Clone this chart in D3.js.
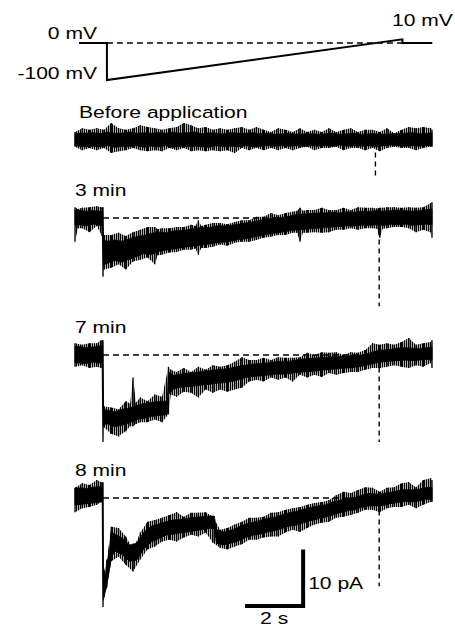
<!DOCTYPE html>
<html>
<head>
<meta charset="utf-8">
<script src="https://cdn.jsdelivr.net/npm/d3@7"></script>
<style>
  body { margin: 0; background: #fff; }
  svg { display: block; }
  text { font-family: "Liberation Sans", Arial, sans-serif; fill: #000; }
</style>
</head>
<body>
<div id="chart"></div>
<script>
// Voltage protocol (s, mV)
const protocolTimes = [0.14, 1.1, 1.1, 11.28, 11.28, 12.31];
const protocolVolts = [0, 0, -100, 10, 0, 0];
const voltLabels = ["0 mV", "-100 mV", "10 mV"];

// Current traces.
// *Core: dense part of the noisy band [time (s), low (pA), high (pA)]
// *Peaks: noise extremes [time (s), min (pA), max (pA)]
const beforeCore = [
  [0,-1.0,1.1],[0.125,-1.1,1.2],[0.375,-1.2,1.2],[0.625,-1.1,1.3],[0.875,-1.2,1.1],[1.125,-1.0,1.4],
  [1.375,-1.3,1.2],[1.625,-1.1,1.2],[1.875,-1.2,1.4],[2.125,-1.0,1.2],[2.375,-1.3,1.3],[2.625,-1.1,1.2],
  [2.875,-1.2,1.3],[3.125,-1.0,1.2],[3.375,-1.3,1.4],[3.625,-1.1,1.2],[3.875,-1.2,1.3],[4.125,-1.1,1.4],
  [4.375,-1.2,1.1],[4.625,-1.3,1.3],[4.875,-1.0,1.2],[5.125,-1.2,1.1],[5.375,-1.1,1.3],[5.625,-1.2,1.2],
  [5.875,-1.0,1.2],[6.125,-1.2,1.3],[6.375,-1.1,1.1],[6.625,-1.0,1.2],[6.875,-1.1,1.0],[7.125,-1.0,1.1],
  [7.375,-1.1,1.2],[7.625,-1.0,1.0],[7.875,-1.1,1.1],[8.125,-1.0,1.1],[8.375,-1.1,1.0],[8.625,-1.0,1.1],
  [8.875,-1.1,1.2],[9.125,-0.9,1.0],[9.375,-1.1,1.1],[9.625,-1.0,1.2],[9.875,-1.1,1.0],[10.125,-1.0,1.1],
  [10.375,-1.2,1.1],[10.625,-1.0,1.0],[10.875,-0.9,1.1],[11.125,-1.0,1.1],[11.375,-1.1,1.2],[11.625,-1.0,1.3],
  [11.875,-1.1,1.1],[12.125,-1.0,1.2],[12.3,-1.0,1.2]
];
const beforePeaks = [
  [0,-1.2,1.4],[0.25,-1.8,2.1],[0.5,-1.4,1.8],[0.75,-1.8,2.1],[1,-1.4,1.8],[1.25,-2.3,3.0],
  [1.5,-2.0,2.1],[1.75,-1.8,1.8],[2,-1.4,2.1],[2.25,-1.8,2.6],[2.5,-2.0,2.3],[2.75,-1.8,2.1],
  [3,-2.0,1.8],[3.25,-1.4,2.1],[3.5,-1.8,2.3],[3.75,-1.4,3.0],[4,-2.0,2.6],[4.25,-1.8,2.1],
  [4.5,-2.0,2.3],[4.75,-1.8,1.8],[5,-2.0,2.1],[5.25,-1.8,1.8],[5.5,-2.3,2.1],[5.75,-1.4,2.3],
  [6,-1.8,1.8],[6.25,-1.4,2.3],[6.5,-1.8,1.8],[6.75,-1.4,1.4],[7,-1.8,2.1],[7.25,-1.4,1.8],
  [7.5,-1.8,1.4],[7.75,-1.4,2.1],[8,-1.2,1.4],[8.25,-1.8,1.8],[8.5,-1.4,1.4],[8.75,-1.4,2.1],
  [9,-1.2,1.4],[9.25,-1.8,1.8],[9.5,-1.4,2.1],[9.75,-1.4,1.4],[10,-1.8,1.8],[10.25,-1.4,1.8],
  [10.5,-2.0,1.4],[10.75,-1.4,2.1],[11,-1.2,1.2],[11.25,-1.4,1.8],[11.5,-1.4,2.3],[11.75,-1.8,2.1],
  [12,-1.4,2.3],[12.25,-1.2,2.1],[12.3,-1.2,1.8]
];
const min3Core = [
  [0,-1.3,1.4],[0.125,-1.2,1.4],[0.375,-1.4,1.2],[0.625,-1.1,1.3],[0.85,-1.3,1.2],[0.95,-1.3,1.2],
  [0.98,-8.3,-3.8],[1.125,-8.0,-4.1],[1.375,-7.5,-3.9],[1.625,-7.8,-4.1],[1.875,-7.3,-3.7],[2.125,-6.8,-3.3],
  [2.375,-6.3,-3.1],[2.625,-6.5,-2.7],[2.875,-5.9,-2.5],[3.125,-5.7,-2.6],[3.375,-5.5,-2.3],[3.625,-5.3,-2.2],
  [3.875,-5.1,-2.1],[4.125,-4.9,-1.8],[4.375,-4.8,-1.7],[4.625,-4.6,-1.7],[4.875,-4.4,-1.4],[5.125,-4.3,-1.4],
  [5.375,-4.1,-1.3],[5.625,-3.8,-1.1],[5.875,-3.7,-0.9],[6.125,-3.4,-0.7],[6.375,-3.2,-0.4],[6.625,-2.9,-0.2],
  [6.875,-2.7,0.0],[7.125,-2.5,0.1],[7.375,-2.3,0.3],[7.625,-2.1,0.6],[7.875,-2.0,0.7],[8.125,-1.9,0.8],
  [8.375,-1.8,0.9],[8.625,-1.7,0.9],[8.875,-1.6,1.0],[9.125,-1.5,0.9],[9.375,-1.4,1.1],[9.625,-1.4,1.0],
  [9.875,-1.3,1.2],[10.125,-1.3,1.1],[10.375,-1.2,1.3],[10.625,-1.3,1.2],[10.875,-1.1,1.3],[11.125,-1.2,1.4],
  [11.375,-1.1,1.3],[11.625,-1.3,1.2],[11.875,-1.2,1.3],[12.125,-1.1,1.5],[12.3,-1.2,1.6]
];
const min3Peaks = [
  [0,-4.2,1.9],[0.1,-1.8,1.6],[0.25,-1.8,1.8],[0.5,-2.5,1.9],[0.75,-1.4,2.1],[0.93,-3.2,1.9],[0.965,-10.4,1.9],
  [1.0,-9.1,-3.0],[1.25,-8.8,-3.0],[1.5,-8.2,-2.6],[1.75,-9.1,-3.2],[2,-7.7,-2.5],[2.25,-7.4,-2.1],
  [2.5,-7.0,-1.6],[2.75,-8.2,-1.6],[2.85,-6.6,-2.0],[3,-6.5,-1.8],[3.25,-6.1,-1.8],[3.5,-6.0,-1.6],[3.75,-5.6,-1.6],
  [4,-5.6,-1.2],[4.15,-5.4,-1.4],[4.25,-6.5,-0.4],[4.35,-5.3,-1.4],[4.5,-5.3,-1.2],[4.75,-5.1,-0.9],[5,-4.7,-0.9],[5.25,-4.9,-1.1],
  [5.5,-4.4,-0.7],[5.75,-4.2,-0.4],[6,-4.2,-0.4],[6.25,-3.9,0.2],[6.5,-3.5,0.2],[6.75,-3.3,0.9],
  [7,-3.0,0.5],[7.25,-3.0,0.9],[7.5,-2.6,1.1],[7.65,-2.6,1.3],[7.75,-4.2,1.8],[7.85,-2.6,1.3],[8,-2.6,1.4],[8.25,-2.5,1.4],
  [8.5,-2.6,1.8],[8.75,-2.5,1.4],[9,-2.1,1.4],[9.25,-2.1,1.8],[9.5,-1.8,1.4],[9.75,-2.1,1.9],
  [10,-1.8,1.8],[10.25,-1.8,1.8],[10.4,-1.9,1.7],[10.5,-3.5,1.8],[10.6,-1.9,1.8],[10.75,-1.8,1.9],[11,-1.6,1.9],[11.25,-1.6,1.8],
  [11.5,-1.8,1.9],[11.75,-2.5,1.8],[12,-2.1,1.9],[12.25,-2.5,2.6],[12.3,-3.5,2.8]
];
const min7Core = [
  [0,-1.4,1.5],[0.125,-1.4,1.5],[0.375,-1.5,1.3],[0.625,-1.3,1.4],[0.83,-1.4,1.6],[0.95,-1.4,1.6],
  [0.98,-12.3,-9.6],[1.125,-12.2,-9.8],[1.375,-12.7,-10.1],[1.625,-12.4,-9.6],[1.875,-12.0,-9.4],[2.125,-11.4,-9.0],
  [2.375,-11.2,-8.6],[2.625,-10.9,-8.4],[2.875,-10.7,-8.2],[3.1,-10.6,-8.2],[3.18,-10.5,-8.0],[3.22,-7.0,-3.0],
  [3.4,-6.0,-3.6],[3.625,-5.7,-3.4],[3.875,-5.6,-3.2],[4.125,-5.5,-3.1],[4.375,-5.3,-2.9],[4.625,-5.2,-2.8],
  [4.875,-5.0,-2.6],[5.125,-4.9,-2.5],[5.375,-4.7,-2.3],[5.625,-4.4,-2.0],[5.875,-4.0,-1.8],[6.125,-3.8,-1.6],
  [6.375,-3.7,-1.5],[6.625,-3.6,-1.4],[6.875,-3.4,-1.2],[7.125,-3.4,-1.1],[7.375,-3.3,-1.1],[7.625,-3.1,-0.9],
  [7.875,-3.0,-0.7],[8.125,-2.9,-0.6],[8.375,-2.8,-0.5],[8.625,-2.6,-0.4],[8.875,-2.5,-0.3],[9.125,-2.4,-0.3],
  [9.375,-2.3,-0.2],[9.625,-2.2,-0.1],[9.875,-2.0,0.0],[10.125,-1.7,0.3],[10.375,-1.4,0.7],[10.625,-1.2,0.9],
  [10.875,-1.1,1.0],[11.125,-1.0,1.2],[11.375,-0.9,1.3],[11.625,-1.0,1.2],[11.875,-0.9,1.1],[12.125,-0.8,1.3],
  [12.3,-0.9,1.4]
];
const min7Peaks = [
  [0,-2.1,2.1],[0.25,-1.8,1.8],[0.5,-2.3,2.1],[0.75,-2.1,2.1],[0.9,-2.3,2.6],[0.965,-15.4,2.6],
  [1.0,-12.8,-9.1],[1.25,-14.0,-9.3],[1.5,-14.4,-9.6],[1.75,-13.5,-8.2],[1.9,-12.6,-8.6],[2,-12.6,-4.0],[2.1,-12.2,-8.4],[2.25,-11.9,-7.5],
  [2.5,-11.9,-8.2],[2.75,-11.4,-7.0],[3,-11.9,-7.4],[3.22,-10.5,-2.1],[3.3,-7.0,-2.6],
  [3.5,-7.4,-3.0],[3.75,-6.5,-2.3],[4,-6.7,-3.0],[4.25,-7.5,-2.1],[4.5,-6.1,-2.6],[4.75,-6.7,-1.8],
  [5,-6.1,-2.1],[5.25,-6.5,-1.8],[5.5,-6.1,-1.2],[5.75,-5.8,-0.4],[6,-4.7,-0.9],[6.25,-4.4,-0.9],
  [6.5,-4.7,-0.5],[6.75,-4.0,-0.9],[7,-4.4,-0.4],[7.25,-4.0,-0.5],[7.5,-4.7,-0.5],[7.75,-3.5,-0.4],
  [8,-4.0,0.4],[8.25,-3.5,0],[8.5,-3.9,0.5],[8.75,-3.2,0.4],[9,-3.5,0.5],[9.25,-3.2,0],
  [9.5,-3.0,0.5],[9.75,-3.0,0.4],[10,-2.6,0.9],[10.25,-2.3,2.1],[10.5,-2.3,1.8],[10.75,-2.1,2.1],
  [11,-1.8,1.8],[11.25,-2.1,2.3],[11.5,-2.3,3.0],[11.75,-1.8,1.8],[12,-2.1,2.1],[12.25,-1.4,2.3],
  [12.3,-2.3,2.6]
];
const min8Core = [
  [0,-1.2,1.8],[0.125,-1.2,1.8],[0.375,-1.0,1.7],[0.625,-0.9,1.9],[0.83,-0.7,2.0],[0.95,-0.7,2.0],
  [0.98,-18.0,-14.0],[1.05,-16.4,-13.6],[1.1,-15.0,-11.6],[1.18,-12.9,-9.6],[1.25,-10.6,-6.0],[1.375,-9.4,-6.4],
  [1.625,-10.0,-7.1],[1.875,-11.2,-8.3],[2.125,-11.0,-8.0],[2.375,-9.0,-6.0],[2.625,-7.8,-5.0],[2.875,-7.2,-4.6],
  [3.125,-6.6,-4.2],[3.375,-6.4,-3.9],[3.625,-6.2,-3.8],[3.875,-6.0,-3.6],[4.125,-5.8,-3.4],[4.375,-5.6,-3.3],
  [4.625,-5.4,-3.2],[4.8,-5.4,-3.2],[4.875,-8.0,-5.6],[5.125,-8.3,-6.0],[5.375,-8.0,-5.7],[5.625,-7.6,-5.2],
  [5.875,-7.0,-4.6],[6.125,-6.6,-4.3],[6.375,-6.4,-4.0],[6.625,-6.0,-3.6],[6.875,-5.8,-3.4],[7.125,-5.4,-3.0],
  [7.375,-5.0,-2.6],[7.625,-4.8,-2.4],[7.875,-4.4,-2.0],[8.125,-4.0,-1.7],[8.375,-3.7,-1.4],[8.625,-3.4,-1.2],
  [8.875,-3.0,-0.7],[9.125,-2.6,-0.4],[9.375,-2.3,-0.1],[9.625,-2.1,0.1],[9.875,-1.7,0.5],[10.125,-1.4,0.8],
  [10.375,-1.4,0.7],[10.625,-1.3,0.8],[10.875,-1.0,1.0],[11.125,-0.8,1.3],[11.375,-0.6,1.5],[11.625,-0.7,1.4],
  [11.875,-0.5,1.6],[12.125,-0.2,1.9],[12.3,-0.3,1.9]
];
const min8Peaks = [
  [0,-2.5,1.8],[0.25,-1.8,2.6],[0.5,-1.6,2.3],[0.75,-1.2,3.2],[0.9,-0.7,2.8],[0.965,-19.3,2.8],
  [1.0,-17.5,-13.0],[1.1,-15.8,-10.9],[1.25,-11.2,-5.1],[1.5,-10.4,-5.3],[1.75,-11.8,-6.8],[2,-13.0,-9.1],
  [2.25,-10.9,-6.1],[2.5,-9.1,-4.2],[2.75,-8.6,-3.9],[3,-7.7,-3.5],[3.25,-7.4,-3.0],[3.5,-7.7,-2.5],
  [3.75,-7.0,-3.3],[4,-6.5,-2.6],[4.25,-6.8,-2.6],[4.5,-6.1,-2.5],[4.75,-7.9,-3.3],[5,-8.8,-5.6],
  [5.25,-9.1,-5.3],[5.5,-8.6,-4.7],[5.75,-8.2,-4.2],[6,-7.4,-3.5],[6.25,-7.4,-3.5],[6.5,-7.0,-3.3],
  [6.75,-6.8,-2.6],[7,-6.8,-2.5],[7.25,-6.1,-2.1],[7.5,-5.6,-1.8],[7.75,-6.0,-1.6],[8,-5.3,-1.2],
  [8.25,-4.7,-0.9],[8.5,-4.4,-0.7],[8.75,-4.2,-0.4],[9,-3.5,0.5],[9.25,-3.3,1.1],[9.5,-3.0,0.9],
  [9.75,-2.6,1.4],[10,-2.1,1.9],[10.25,-2.1,1.8],[10.5,-2.5,1.1],[10.75,-1.8,1.8],[11,-1.6,1.9],
  [11.25,-1.6,2.6],[11.5,-1.2,2.8],[11.75,-1.8,1.9],[12,-1.2,3.2],[12.25,-0.7,3.5],[12.3,-0.7,3.2]
];

const traceLabels = ["Before application", "3 min", "7 min", "8 min"];
const traceCores = [beforeCore, min3Core, min7Core, min8Core];
const tracePeaks = [beforePeaks, min3Peaks, min7Peaks, min8Peaks];
// whether a dashed 0 pA line is drawn after the step
const hasBaseline = [false, true, true, true];
// dashed vertical markers at the reversal point (time, bottom pA)
const markerTimes = [10.35, 10.48, 10.48, 10.48];
const markerBottoms = [-6.7, -15.6, -15.4, -15.6];
const stepTime = 0.965;

// scale bar: 2 s, 10 pA
const barTimes = [5.86, 7.86];
const barCurrents = [-19.1, -9.1];
const barLabels = ["2 s", "10 pA"];

// ---- layout ----
const W = 455, H = 628;
const zeroY = [140, 218, 355, 498];   // pixel row of 0 pA for each trace
const labelDx = [4, 0, 0, 0];
const pxPerPA = 5.65;
const textScaleX = 1.24;

const svg = d3.select("#chart").append("svg")
    .attr("width", W)
    .attr("height", H);

svg.append("rect").attr("width", W).attr("height", H).attr("fill", "#fff");

// vertical hairline hatch used for the noisy fringe of each trace
svg.append("defs").append("pattern")
    .attr("id", "noise")
    .attr("patternUnits", "userSpaceOnUse")
    .attr("width", 2).attr("height", 8)
  .append("rect")
    .attr("width", 1.3).attr("height", 8)
    .attr("fill", "#000");

const x = d3.scaleLinear().domain([0, 12.3]).range([75, 432]);
const yV = d3.scaleLinear().domain([-100, 0]).range([80, 43]);

function addText(px, py, str, anchor) {
  svg.append("text")
      .attr("transform", `translate(${px},${py}) scale(${textScaleX},1)`)
      .attr("text-anchor", anchor || "start")
      .attr("font-size", 17)
      .text(str);
}

// protocol dashed 0 mV reference
svg.append("line")
    .attr("x1", x(protocolTimes[1])).attr("x2", x(protocolTimes[3]))
    .attr("y1", yV(0)).attr("y2", yV(0))
    .attr("stroke", "#000").attr("stroke-width", 1.4)
    .attr("stroke-dasharray", "6,4");

svg.append("path")
    .datum(protocolTimes.map((t, i) => [t, protocolVolts[i]]))
    .attr("fill", "none")
    .attr("stroke", "#000")
    .attr("stroke-width", 2)
    .attr("d", d3.line().x(d => x(d[0])).y(d => yV(d[1])));

addText(97, 39, voltLabels[0], "end");
addText(97, 79, voltLabels[1], "end");
addText(392, 26, voltLabels[2], "start");

// current traces
traceCores.forEach((core, i) => {
  const y = d3.scaleLinear().domain([-10, 0]).range([zeroY[i] + 10 * pxPerPA, zeroY[i]]);
  const g = svg.append("g");
  const band = d3.area().x(d => x(d[0])).y0(d => y(d[1])).y1(d => y(d[2]));

  if (hasBaseline[i]) {
    g.append("line")
        .attr("x1", x(stepTime)).attr("x2", x(12.3))
        .attr("y1", y(0)).attr("y2", y(0))
        .attr("stroke", "#000").attr("stroke-width", 1.4)
        .attr("stroke-dasharray", "6,4");
  }

  g.append("line")
      .attr("x1", x(markerTimes[i])).attr("x2", x(markerTimes[i]))
      .attr("y1", y(-2.2)).attr("y2", y(markerBottoms[i]))
      .attr("stroke", "#000").attr("stroke-width", 1.4)
      .attr("stroke-dasharray", "5,4");

  // outer noise envelope, hatched
  g.append("path")
      .datum(tracePeaks[i])
      .attr("fill", "url(#noise)")
      .attr("d", band);

  g.append("path")
      .datum(core)
      .attr("fill", "#000")
      .attr("stroke", "#000")
      .attr("stroke-width", 0.8)
      .attr("d", band);

  g.selectAll("line.peak")
    .data(tracePeaks[i])
    .join("line")
      .attr("class", "peak")
      .attr("x1", d => x(d[0])).attr("x2", d => x(d[0]))
      .attr("y1", d => y(d[1])).attr("y2", d => y(d[2]))
      .attr("stroke", "#000")
      .attr("stroke-width", 1.3);

  addText(x(0) + labelDx[i], zeroY[i] - 22, traceLabels[i], "start");
});

// scale bar, drawn on the last trace's current scale
const yBar = d3.scaleLinear().domain([-10, 0]).range([zeroY[3] + 10 * pxPerPA, zeroY[3]]);
svg.append("path")
    .attr("fill", "none")
    .attr("stroke", "#000")
    .attr("stroke-width", 4)
    .attr("stroke-linejoin", "miter")
    .attr("d", d3.line()([
      [x(barTimes[0]), yBar(barCurrents[0])],
      [x(barTimes[1]), yBar(barCurrents[0])],
      [x(barTimes[1]), yBar(barCurrents[1])]
    ]));

addText((x(barTimes[0]) + x(barTimes[1])) / 2, 624, barLabels[0], "middle");
addText(x(barTimes[1]) + 5, 589, barLabels[1], "start");
</script>
</body>
</html>
